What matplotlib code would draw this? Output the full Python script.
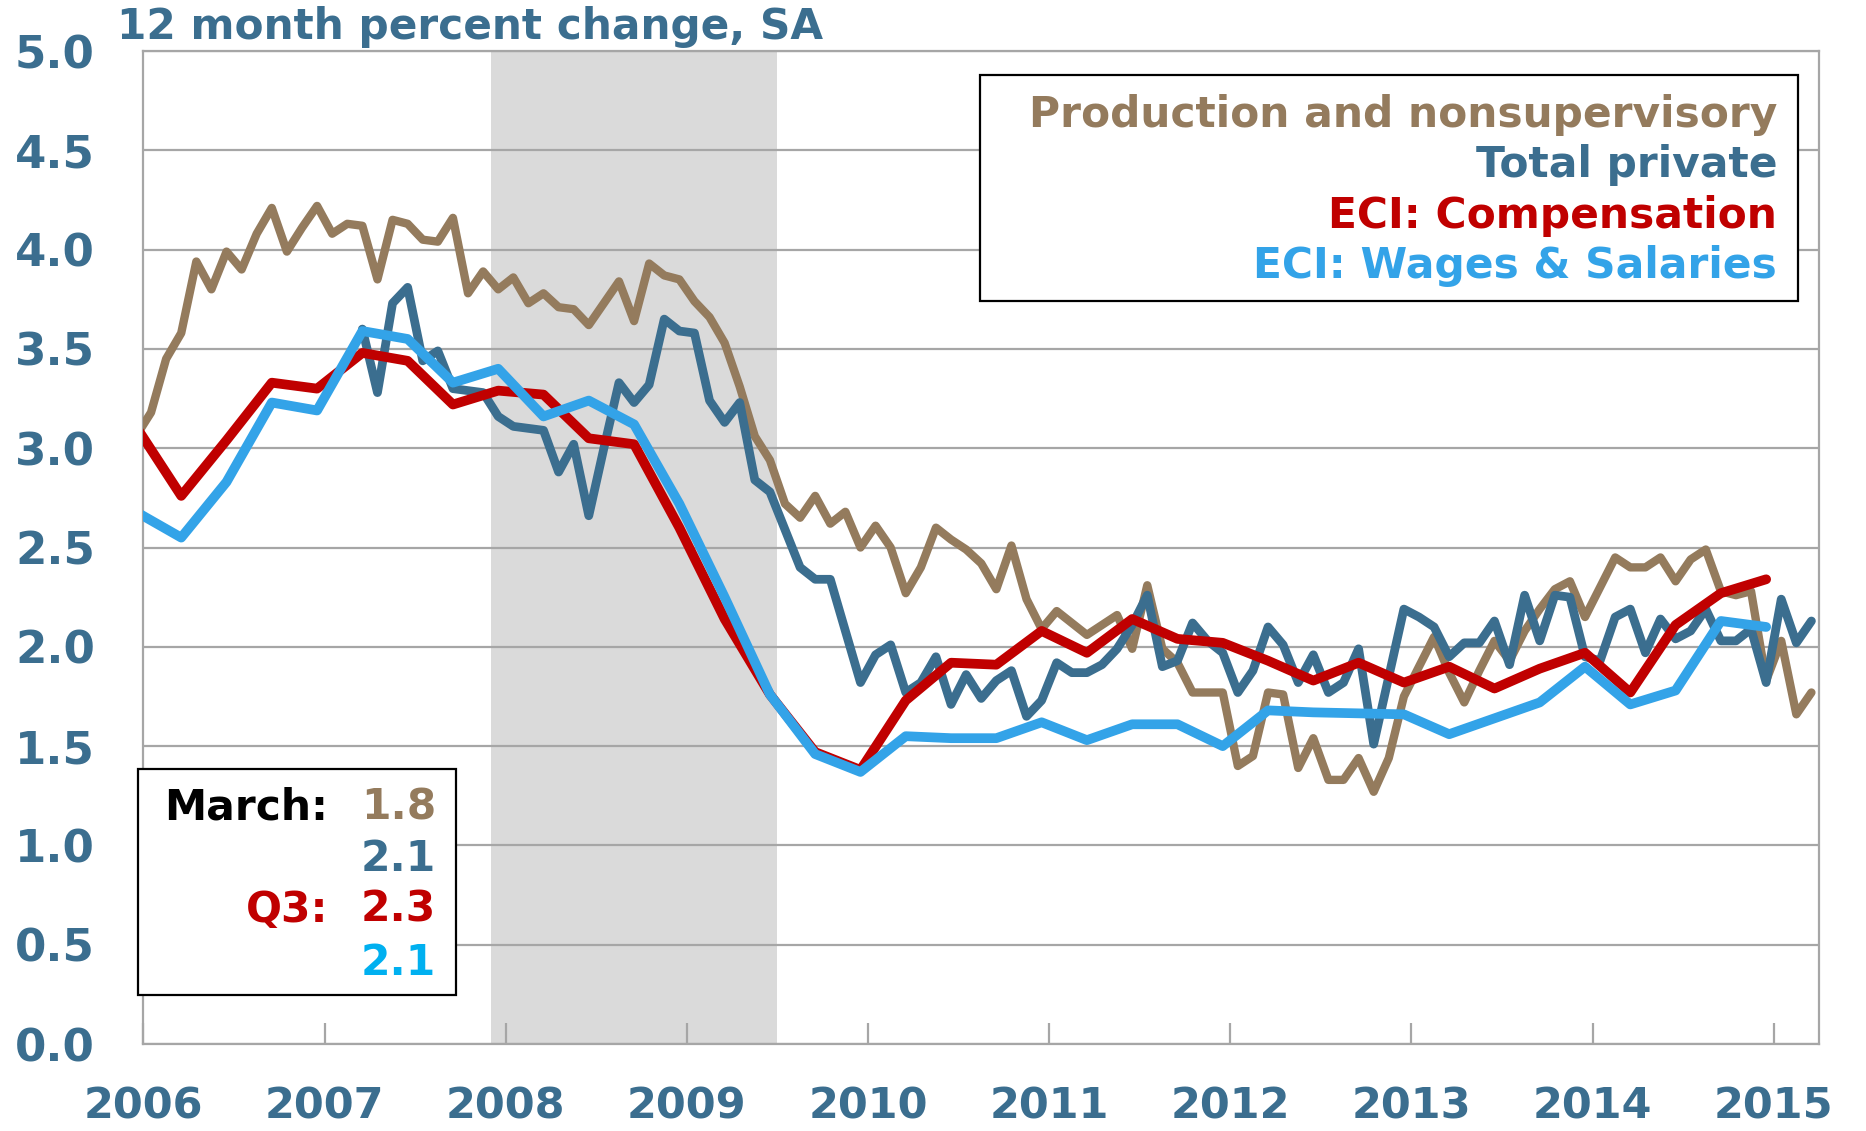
import matplotlib
matplotlib.use("Agg")
import matplotlib.pyplot as plt
import matplotlib.patches as patches
import numpy as np

# month slots: 0 = Jan 2006, -1 = Dec 2005 (clipped at the left edge)
prod_start = -1
prod_nonsup = [3.06, 3.18, 3.45, 3.58, 3.94, 3.80, 3.99, 3.90, 4.08, 4.21, 3.99, 4.11, 4.22,
               4.08, 4.13, 4.12, 3.85, 4.15, 4.13, 4.05, 4.04, 4.16, 3.78, 3.89, 3.80,
               3.86, 3.73, 3.78, 3.71, 3.70, 3.62, 3.73, 3.84, 3.64, 3.93, 3.87, 3.85,
               3.74, 3.66, 3.53, 3.31, 3.06, 2.94, 2.72, 2.65, 2.76, 2.62, 2.68, 2.50,
               2.61, 2.50, 2.27, 2.40, 2.60, 2.54, 2.49, 2.42, 2.29, 2.51, 2.24, 2.09,
               2.18, 2.12, 2.06, 2.11, 2.16, 1.99, 2.31, 1.99, 1.92, 1.77, 1.77, 1.77,
               1.40, 1.45, 1.77, 1.76, 1.39, 1.54, 1.33, 1.33, 1.44, 1.27, 1.44, 1.75,
               1.90, 2.05, 1.87, 1.72, 1.88, 2.03, 1.93, 2.08, 2.19, 2.29, 2.33, 2.15,
               2.30, 2.45, 2.40, 2.40, 2.45, 2.33, 2.44, 2.49, 2.28, 2.26, 2.28, 1.83,
               2.03, 1.66, 1.77]

total_start = 14
total_private = [3.60, 3.28, 3.73, 3.81, 3.44, 3.49, 3.30, 3.29, 3.28, 3.16, 3.11, 3.10,
                 3.09, 2.88, 3.02, 2.66, 3.00, 3.33, 3.23, 3.32, 3.65, 3.59, 3.58, 3.24,
                 3.13, 3.23, 2.84, 2.78, 2.59, 2.40, 2.34, 2.34, 2.08, 1.82, 1.96, 2.01,
                 1.77, 1.82, 1.95, 1.71, 1.86, 1.74, 1.83, 1.88, 1.65, 1.73, 1.92, 1.87,
                 1.87, 1.91, 1.99, 2.11, 2.26, 1.90, 1.93, 2.12, 2.03, 1.97, 1.77, 1.88,
                 2.10, 2.01, 1.82, 1.96, 1.77, 1.82, 1.99, 1.51, 1.85, 2.19, 2.15, 2.10,
                 1.95, 2.02, 2.02, 2.13, 1.91, 2.26, 2.03, 2.26, 2.25, 1.95, 1.93, 2.15,
                 2.19, 1.97, 2.14, 2.04, 2.08, 2.19, 2.03, 2.03, 2.09, 1.82, 2.24, 2.02,
                 2.13]

# ECI is quarterly, plotted at the quarter-end month
eci_months = list(range(-1, 108, 3))
eci_comp = [3.11, 2.76, 3.04, 3.33, 3.30, 3.48, 3.44, 3.22, 3.29, 3.27, 3.05, 3.02, 2.60,
            2.14, 1.76, 1.47, 1.38, 1.73, 1.92, 1.91, 2.08, 1.97, 2.14, 2.04, 2.02, 1.93,
            1.83, 1.92, 1.82, 1.90, 1.79, 1.89, 1.97, 1.77, 2.11, 2.27, 2.34]
eci_wages = [2.68, 2.55, 2.83, 3.23, 3.19, 3.59, 3.55, 3.33, 3.40, 3.16, 3.24, 3.12, 2.72,
             2.25, 1.76, 1.46, 1.37, 1.55, 1.54, 1.54, 1.62, 1.53, 1.61, 1.61, 1.50, 1.68,
             1.67, 1.665, 1.66, 1.56, 1.64, 1.72, 1.90, 1.71, 1.78, 2.13, 2.10]

years = [str(y) for y in range(2006, 2016)]
recession = (23, 42)  # Dec 2007 - Jun 2009

tan = "#947b5d"
steel = "#3b6e8f"
red = "#c00000"
lblue = "#33a3e8"
grid_c = "#a6a6a6"

W, H = 1866, 1131
def px(x, y):
    return x / W, 1 - y / H

plt.rcParams['font.family'] = 'DejaVu Sans'
plt.rcParams['font.weight'] = 'bold'

fig = plt.figure(figsize=(W / 100, H / 100), dpi=100)
ax = fig.add_axes([0.0769, 0.0769, 0.8979, 0.878])

ax.axvspan(recession[0], recession[1], color="#dadada", lw=0, zorder=0.2)

x_prod = np.arange(prod_start, prod_start + len(prod_nonsup)) + 0.5
x_tot = np.arange(total_start, total_start + len(total_private)) + 0.5
x_eci = np.array(eci_months) + 0.5

kw = dict(solid_joinstyle="round", solid_capstyle="round")
ax.plot(x_prod, prod_nonsup, color=tan, lw=6, zorder=3, **kw)
ax.plot(x_tot, total_private, color=steel, lw=6.3, zorder=3, **kw)
ax.plot(x_eci, eci_comp, color=red, lw=7, zorder=4, **kw)
ax.plot(x_eci, eci_wages, color=lblue, lw=7, zorder=5, **kw)

ax.set_xlim(0, 111)
ax.set_ylim(0, 5)
ax.set_yticks(np.arange(0, 5.01, 0.5))
ax.set_yticklabels(["%.1f" % v for v in np.arange(0, 5.01, 0.5)])
ax.set_xticks(np.arange(0, 109, 12))
ax.set_xticklabels(years)
ax.set_axisbelow(True)
ax.yaxis.grid(True, color=grid_c, lw=1.6)

for s in ax.spines.values():
    s.set_color(grid_c)
    s.set_linewidth(1.6)

ax.tick_params(axis="y", length=0, pad=35, labelsize=32.5, labelcolor=steel)
ax.tick_params(axis="x", direction="in", length=15, width=1.6, color=grid_c,
               pad=30, labelsize=31, labelcolor=steel)

fig.text(*px(117, 39), "12 month percent change, SA", fontsize=30.4, color=steel,
         ha="left", va="baseline")

# legend box, top right
box = patches.Rectangle(px(980, 301), 818 / W, 226 / H, transform=fig.transFigure,
                        facecolor="white", edgecolor="black", lw=1.6, zorder=5)
fig.add_artist(box)
legend_items = [("Production and nonsupervisory", tan, 127),
                ("Total private", steel, 177),
                ("ECI: Compensation", red, 228),
                ("ECI: Wages & Salaries", lblue, 278)]
for label, c, yb in legend_items:
    fig.text(*px(1777, yb), label, fontsize=30.5, color=c, ha="right", va="baseline", zorder=6)

# latest values box, bottom left
box2 = patches.Rectangle(px(138, 995), 318 / W, 226 / H, transform=fig.transFigure,
                         facecolor="white", edgecolor="black", lw=1.6, zorder=5)
fig.add_artist(box2)
fig.text(*px(328, 820), "March:", fontsize=30.5, color="black", ha="right", va="baseline", zorder=6)
fig.text(*px(328, 922), "Q3:", fontsize=30.5, color=red, ha="right", va="baseline", zorder=6)
latest = [("1.8", tan, 820), ("2.1", steel, 871), ("2.3", red, 922), ("2.1", "#00b0f0", 975)]
for t, c, yb in latest:
    fig.text(*px(436, yb), t, fontsize=30.5, color=c, ha="right", va="baseline", zorder=6)

fig.savefig("out.png", dpi=100)
